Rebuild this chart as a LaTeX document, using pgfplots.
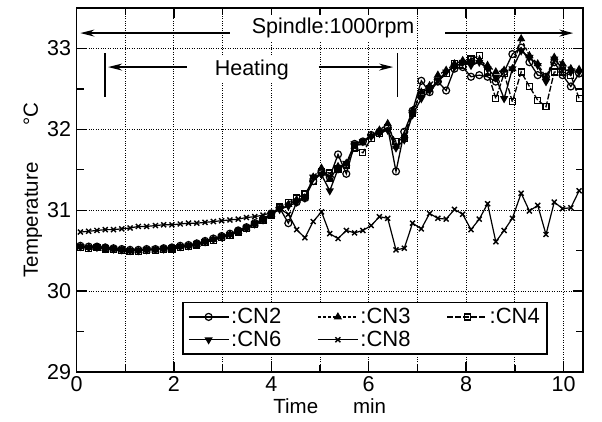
\documentclass[border=0pt]{standalone}
\usepackage{fontspec}
\setmainfont{Liberation Sans}
\usepackage{pgfplots}
\pgfplotsset{compat=1.18}
\usepackage{pgfplotstable}
\usetikzlibrary{arrows.meta}
\pgfplotstableread{
t cn2 cn3 cn4 cn6 cn8
0.08 30.56 30.55 30.54 30.55 30.73
0.25 30.55 30.54 30.53 30.54 30.74
0.42 30.55 30.53 30.54 30.54 30.75
0.59 30.54 30.53 30.52 30.53 30.76
0.76 30.53 30.52 30.51 30.52 30.76
0.93 30.52 30.51 30.50 30.51 30.77
1.10 30.51 30.50 30.49 30.50 30.78
1.27 30.51 30.50 30.49 30.50 30.80
1.44 30.52 30.51 30.50 30.51 30.80
1.62 30.52 30.51 30.50 30.52 30.81
1.79 30.53 30.52 30.51 30.52 30.82
1.96 30.54 30.53 30.52 30.53 30.82
2.13 30.56 30.55 30.54 30.55 30.83
2.30 30.57 30.56 30.55 30.56 30.84
2.47 30.59 30.58 30.57 30.58 30.84
2.64 30.62 30.61 30.60 30.61 30.85
2.81 30.65 30.64 30.63 30.64 30.86
2.98 30.68 30.67 30.66 30.67 30.87
3.15 30.71 30.70 30.69 30.70 30.88
3.32 30.75 30.74 30.73 30.74 30.89
3.49 30.79 30.78 30.77 30.78 30.91
3.66 30.84 30.83 30.82 30.83 30.92
3.83 30.89 30.88 30.87 30.88 30.94
4.00 30.96 30.95 30.94 30.95 30.97
4.17 31.03 31.02 31.04 31.01 31.02
4.35 30.84 31.07 31.10 31.05 30.95
4.52 31.10 31.13 31.15 31.10 30.76
4.69 31.15 31.15 31.20 31.15 30.66
4.86 31.36 31.41 31.36 31.41 30.86
5.03 31.46 31.52 31.48 31.44 30.98
5.20 31.41 31.38 31.46 31.24 30.71
5.37 31.69 31.54 31.51 31.51 30.65
5.54 31.45 31.58 31.56 31.58 30.75
5.71 31.82 31.79 31.77 31.82 30.72
5.88 31.85 31.83 31.71 31.85 30.75
6.05 31.93 31.92 31.89 31.91 30.81
6.22 31.97 31.99 31.95 31.95 30.92
6.39 32.02 32.07 32.02 31.99 30.90
6.56 31.48 31.79 31.85 31.77 30.51
6.73 31.97 31.92 31.89 31.87 30.53
6.90 32.23 32.23 32.20 32.18 30.84
7.08 32.60 32.46 32.46 32.38 30.77
7.25 32.46 32.54 32.50 32.48 30.96
7.42 32.59 32.67 32.59 32.61 30.90
7.59 32.48 32.73 32.69 32.71 30.89
7.76 32.75 32.81 32.81 32.77 31.01
7.93 32.77 32.85 32.79 32.83 30.95
8.10 32.65 32.84 32.87 32.79 30.76
8.27 32.67 32.85 32.91 32.83 30.89
8.44 32.65 32.79 32.71 32.75 31.08
8.61 32.59 32.71 32.38 32.64 30.61
8.78 32.71 32.73 32.69 32.38 30.75
8.95 32.93 32.75 32.34 32.75 30.90
9.13 33.01 33.12 32.71 32.97 31.21
9.30 32.83 32.91 32.53 32.89 30.99
9.47 32.67 32.81 32.36 32.79 31.06
9.64 32.65 32.64 32.28 32.59 30.70
9.81 32.83 32.89 32.71 32.87 31.10
9.98 32.67 32.81 32.71 32.75 31.02
10.15 32.53 32.75 32.67 32.71 31.03
10.32 32.69 32.74 32.38 32.71 31.24
}\datatable

\begin{document}
\begin{tikzpicture}
\path[use as bounding box] (-76.5pt,-49pt) rectangle (525.5pt,372pt);
\begin{axis}[
  at={(0pt,0pt)}, anchor=south west,
  width=506.5pt, height=364pt, scale only axis,
  xmin=0, xmax=10.4, ymin=29, ymax=33.5,
  xtick={0,2,...,10}, minor xtick={1,3,...,9},
  ytick={29,30,...,33}, minor ytick={29.5,30.5,...,33.5},
  xmajorgrids, xminorgrids, ymajorgrids,
  major grid style={black, line width=1pt, dash pattern=on 1pt off 1.4pt},
  minor grid style={black, line width=1pt, dash pattern=on 1pt off 1.4pt},
  tick align=inside,
  major tick length=10pt, minor tick length=7pt,
  every tick/.style={black, line width=1.4pt},
  axis line style={black, line width=1.9pt},
  /pgf/number format/assume math mode=true,
  tick label style={font=\fontsize{21.5}{24}\selectfont},
  xticklabel style={yshift=-1pt},
  yticklabel style={xshift=-2pt},
  xlabel={Time\hspace{1.7em}min},
  ylabel={Temperature\hspace{1.8em}°C},
  label style={font=\fontsize{20.5}{24}\selectfont},
  xlabel style={yshift=0pt},
  ylabel style={yshift=-2pt},
  legend columns=3,
  legend cell align=left,
  legend style={at={(0.209,0.047)}, anchor=south west, draw=black, line width=1.4pt,
    font=\fontsize{22}{25}\selectfont, inner xsep=5pt, inner ysep=4pt, row sep=2pt,
    /tikz/every even column/.append style={column sep=34pt}},
  legend image code/.code={\draw[mark repeat=2,mark phase=2,#1] plot coordinates {(0cm,0cm)(0.7cm,0cm)(1.4cm,0cm)};},
]
\addplot[black, line width=1.3pt, mark=o, mark size=3.5pt, mark options={solid, fill=white, line width=1.2pt}] table[x=t,y=cn2]{\datatable};
\addlegendentry{:CN2}
\addplot[black, line width=1.3pt, dash pattern=on 3pt off 2pt, mark=triangle*, mark size=3.5pt, mark options={solid}] table[x=t,y=cn3]{\datatable};
\addlegendentry{:CN3}
\addplot[black, line width=1.3pt, dash pattern=on 6pt off 2pt, mark=square, mark size=3pt, mark options={solid, fill=white, line width=1.2pt}] table[x=t,y=cn4]{\datatable};
\addlegendentry{:CN4}
\addplot[black, line width=1.3pt, mark=triangle*, mark size=3.5pt, mark options={solid, rotate=180}] table[x=t,y=cn6]{\datatable};
\addlegendentry{:CN6}
\addplot[black, line width=1.2pt, mark=x, mark size=3.5pt, mark options={solid, line width=1.4pt}] table[x=t,y=cn8]{\datatable};
\addlegendentry{:CN8}

\node[fill=white, inner sep=3pt, font=\fontsize{21.5}{24}\selectfont] at (axis cs:5.27,33.25) {Spindle:1000rpm};
\draw[line width=1.4pt, -{Stealth[length=14pt,width=7pt]}] (axis cs:3.15,33.19) -- (axis cs:0.08,33.19);
\draw[line width=1.4pt, -{Stealth[length=14pt,width=7pt]}] (axis cs:7.57,33.19) -- (axis cs:10.2,33.19);
\node[fill=white, inner sep=3pt, font=\fontsize{21.5}{24}\selectfont] at (axis cs:3.6,32.73) {Heating};
\draw[line width=1.4pt, -{Stealth[length=14pt,width=7pt]}] (axis cs:2.26,32.77) -- (axis cs:0.65,32.77);
\draw[line width=1.4pt, -{Stealth[length=14pt,width=7pt]}] (axis cs:4.97,32.77) -- (axis cs:6.5,32.77);
\draw[line width=1.4pt] (axis cs:0.585,32.94) -- (axis cs:0.585,32.40);
\draw[line width=1.4pt] (axis cs:6.59,32.94) -- (axis cs:6.59,32.40);
\end{axis}
\end{tikzpicture}
\end{document}
